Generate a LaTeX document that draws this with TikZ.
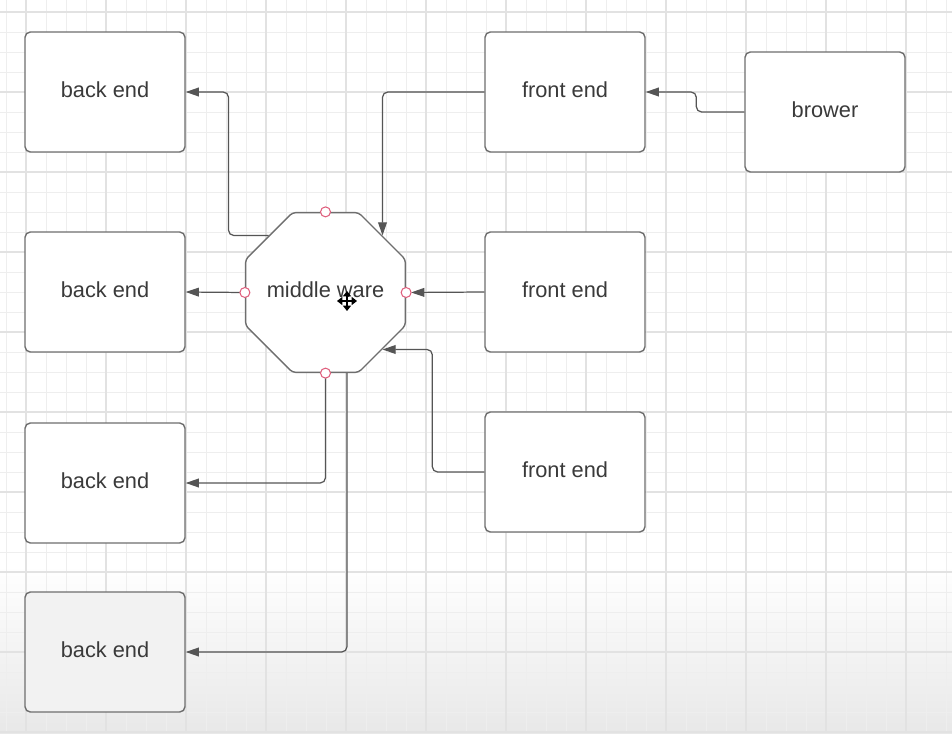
\documentclass[tikz,border=0pt]{standalone}
\usepackage{fontspec}
\setmainfont{Liberation Sans}
\usetikzlibrary{arrows.meta,shapes.geometric,positioning}

\definecolor{gridminor}{HTML}{EEEEEE}
\definecolor{gridmajor}{HTML}{E2E2E2}
\definecolor{boxline}{HTML}{6E6E6E}
\definecolor{wireline}{HTML}{555555}
\definecolor{labelgray}{HTML}{3A3A3A}
\definecolor{portred}{HTML}{E0607E}

\tikzset{
  box/.style = {draw=boxline, line width=0.8pt, rounded corners=3pt, fill=white,
    minimum width=3.2cm, minimum height=2.4cm, inner sep=0pt, text depth=3pt,
    text=labelgray, font=\fontsize{12.4}{14}\selectfont},
  mware/.style = {regular polygon, regular polygon sides=8, draw=boxline,
    line width=0.8pt, fill=white, minimum size=3.46cm, inner sep=0pt,
    rounded corners=2pt,
    label={[text=labelgray, font=\fontsize{12.4}{14}\selectfont, text depth=3pt]center:#1}},
  conn/.style = {draw=wireline, line width=0.7pt, rounded corners=3pt,
    -{Triangle[length=7.5pt,width=5pt]}},
  port/.style = {circle, draw=portred, line width=0.6pt, fill=white,
    minimum size=0.2cm, inner sep=0pt}
}

\begin{document}
\begin{tikzpicture}[x=0.02cm, y=-0.02cm]
% canvas and grid
\useasboundingbox (0,0) rectangle (952,733);
\fill[white] (0,0) rectangle (952,733);
\shade[top color=white, bottom color=black!9] (0,565) rectangle (952,733);
\foreach \x in {6,26,...,946} \draw[gridminor, line width=0.5pt] (\x,0) -- (\x,733);
\foreach \y in {12,32,...,732} \draw[gridminor, line width=0.5pt] (0,\y) -- (952,\y);
\foreach \x in {26,106,...,906} \draw[gridmajor, line width=0.7pt] (\x,0) -- (\x,733);
\foreach \y in {12,92,...,732} \draw[gridmajor, line width=0.7pt] (0,\y) -- (952,\y);

% boxes
\node[box] (be1) at (105,92)  {back end};
\node[box] (be2) at (105,292) {back end};
\node[box] (be3) at (105,483) {back end};
\node[box, fill=black!5] (be4) at (105,652) {back end};
\node[box] (fe1) at (565,92)  {front end};
\node[box] (fe2) at (565,292) {front end};
\node[box] (fe3) at (565,472) {front end};
\node[box] (br)  at (825,112) {brower};
\node[mware={middle ware}] (mw) at (325.5,292.5) {};

% connectors
\draw[conn] (br.west) -- ++(-48,0) |- (fe1.east);
\draw[conn] (mw.135) -- ++(-40,0) |- (be1.east);
\draw[conn] (fe1.west) -| (mw.45);
\draw[conn, shorten >=0.1cm] (fe2.west) -- (mw.east);
\draw[conn] (mw.west) -- (be2.east);
\draw[conn] (fe3.west) -- ++(-52,0) |- (mw.-45);
\draw[conn] (mw.south) |- (be3.east);
\draw[conn] ([xshift=0.43cm]mw.south) |- (be4.east);

% handles on the octagon
\foreach \a in {north,south,east,west}
  \node[port] at (mw.\a) {};

% move cursor
\coordinate (cur) at (347,301);
\draw[black, line width=1.5pt, {Triangle[length=3pt,width=4.5pt]}-{Triangle[length=3pt,width=4.5pt]}]
  ([xshift=-0.2cm]cur) -- ([xshift=0.2cm]cur);
\draw[black, line width=1.5pt, {Triangle[length=3pt,width=4.5pt]}-{Triangle[length=3pt,width=4.5pt]}]
  ([yshift=0.2cm]cur) -- ([yshift=-0.2cm]cur);
\end{tikzpicture}
\end{document}
